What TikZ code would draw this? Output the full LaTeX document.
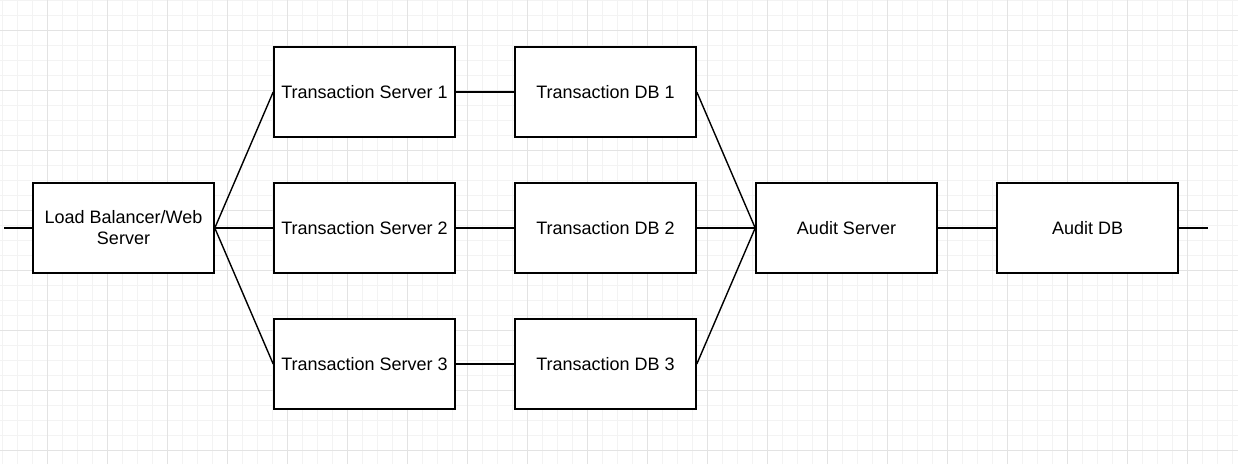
\documentclass[tikz,border=0pt]{standalone}
\usepackage{fontspec}
\setmainfont{Liberation Sans}
\definecolor{gridminor}{HTML}{F3F3F3}
\definecolor{gridmajor}{HTML}{E3E3E3}
\begin{document}
\begin{tikzpicture}[x=1pt,y=-1pt,
  box/.style={draw=black,line width=1.6pt,minimum width=181pt,minimum height=90pt,inner sep=0pt,align=center,font=\fontsize{18}{21}\selectfont},
  link/.style={draw=black,line width=1.4pt}]
\useasboundingbox (0,0) rectangle (1238,464);
\fill[white] (0,0) rectangle (1238,464);
% minor grid
\foreach \x in {2,17,...,1238} \draw[gridminor,line width=0.8pt] (\x,0) -- (\x,464);
\foreach \y in {0,15,...,464} \draw[gridminor,line width=0.8pt] (0,\y) -- (1238,\y);
% major grid
\foreach \x in {47,107,...,1238} \draw[gridmajor,line width=0.9pt] (\x,0) -- (\x,464);
\foreach \y in {30,90,...,464} \draw[gridmajor,line width=0.9pt] (0,\y) -- (1238,\y);

\node[box,fill=white] (lb) at (123.5,228) {Load Balancer/Web\\Server};
\node[box,fill=white] (ts1) at (364.5,92) {Transaction Server 1};
\node[box,fill=white] (ts2) at (364.5,228) {Transaction Server 2};
\node[box,fill=white] (ts3) at (364.5,364) {Transaction Server 3};
\node[box,fill=white] (db1) at (605.5,92) {Transaction DB 1};
\node[box,fill=white] (db2) at (605.5,228) {Transaction DB 2};
\node[box,fill=white] (db3) at (605.5,364) {Transaction DB 3};
\node[box,fill=white] (as) at (846.5,228) {Audit Server};
\node[box,fill=white] (adb) at (1087.5,228) {Audit DB};
\coordinate (inL) at (4,228);
\coordinate (outR) at (1208,228);

\draw[link] (inL) -- (lb.west);
\foreach \t in {ts1,ts2,ts3} \draw[link] (lb.east) -- (\t.west);
\draw[link] (ts1.east) -- (db1.west);
\draw[link] (ts2.east) -- (db2.west);
\draw[link] (ts3.east) -- (db3.west);
\foreach \d in {db1,db2,db3} \draw[link] (\d.east) -- (as.west);
\draw[link] (as.east) -- (adb.west);
\draw[link] (adb.east) -- (outR);
\end{tikzpicture}
\end{document}
